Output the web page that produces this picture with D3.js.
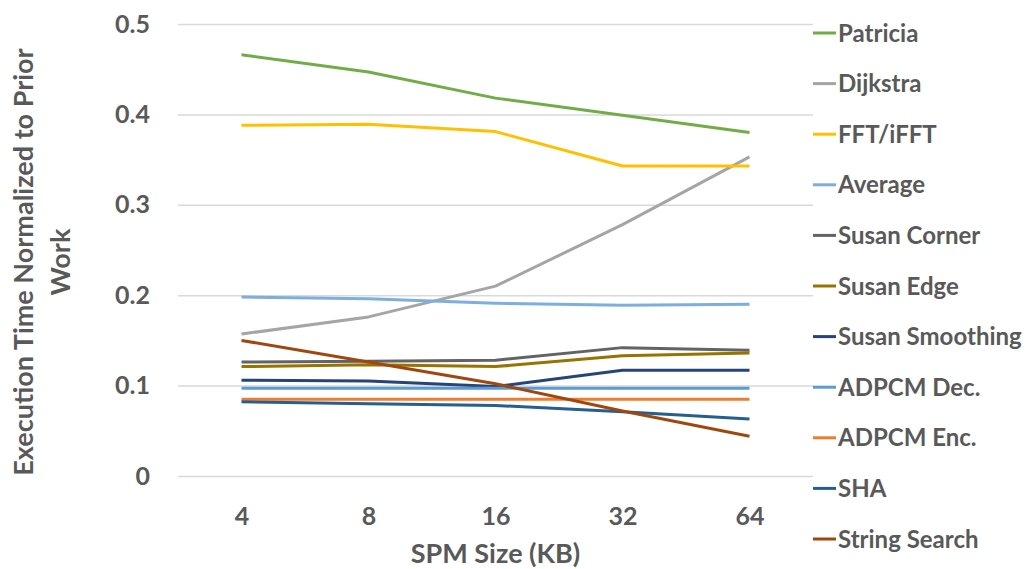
<!DOCTYPE html>
<html lang="en">
<head>
  <meta charset="UTF-8">
  <title>Execution Time vs SPM Size</title>
  <script src="https://d3js.org/d3.v7.min.js"></script>
  <style>
    body { margin: 0; background: #fff; }
    text { font-family: Lato, "Open Sans", sans-serif; font-weight: bold; fill: #595959; }
  </style>
</head>
<body>
<div id="myDiv"></div>

<script>
// chart data
var sizes = ["4", "8", "16", "32", "64"];
var seriesNames = ["Patricia", "Dijkstra", "FFT/iFFT", "Average", "Susan Corner", "Susan Edge",
                   "Susan Smoothing", "ADPCM Dec.", "ADPCM Enc.", "SHA", "String Search"];
var patricia       = [0.466, 0.447, 0.418, 0.399, 0.380];
var dijkstra       = [0.157, 0.176, 0.210, 0.278, 0.353];
var fft            = [0.388, 0.389, 0.381, 0.343, 0.343];
var average        = [0.198, 0.196, 0.191, 0.189, 0.190];
var susanCorner    = [0.126, 0.127, 0.128, 0.142, 0.139];
var susanEdge      = [0.121, 0.123, 0.121, 0.133, 0.136];
var susanSmoothing = [0.106, 0.105, 0.099, 0.117, 0.117];
var adpcmDec       = [0.097, 0.097, 0.097, 0.097, 0.097];
var adpcmEnc       = [0.085, 0.085, 0.085, 0.085, 0.085];
var sha            = [0.082, 0.080, 0.078, 0.071, 0.063];
var stringSearch   = [0.150, 0.126, 0.102, 0.072, 0.044];
var yTicks = [0, 0.1, 0.2, 0.3, 0.4, 0.5];

var seriesValues = [patricia, dijkstra, fft, average, susanCorner, susanEdge,
                    susanSmoothing, adpcmDec, adpcmEnc, sha, stringSearch];
var colors = ["#70AD47", "#A5A5A5", "#FFC000", "#7CAFDD", "#636363", "#997300",
              "#264478", "#5B9BD5", "#ED7D31", "#255E91", "#9E480E"];

var series = seriesNames.map(function(name, i){
  return { name: name, color: colors[i], values: seriesValues[i] };
});

// plot area (plotTop, not "top": that one is window.top)
var plotLeft = 178, plotRight = 813, plotTop = 24, plotBottom = 476;

var svg = d3.select("#myDiv").append("svg")
  .attr("width", 1026)
  .attr("height", 569);

var xScale = d3.scalePoint()
  .domain(sizes)
  .range([plotLeft, plotRight])
  .padding(0.5);

var yScale = d3.scaleLinear()
  .domain([0, 0.5])
  .range([plotBottom, plotTop]);

// y axis with gridlines
var yAxis = d3.axisLeft(yScale)
  .tickValues(yTicks)
  .tickFormat(function(d){ return d === 0 ? "0" : d3.format(".1f")(d); })
  .tickSizeInner(-(plotRight - plotLeft))
  .tickSizeOuter(0)
  .tickPadding(28);

var yG = svg.append("g")
  .attr("transform", "translate(" + plotLeft + ",0)")
  .call(yAxis);
yG.select(".domain").remove();
yG.selectAll(".tick line").attr("stroke", "#D9D9D9").attr("stroke-width", 1.5);
yG.selectAll(".tick text").style("font-size", "25px").attr("fill", "#595959");

// x axis, labels only
var xAxis = d3.axisBottom(xScale).tickSize(0).tickPadding(31);
var xG = svg.append("g")
  .attr("transform", "translate(0," + plotBottom + ")")
  .call(xAxis);
xG.select(".domain").remove();
xG.selectAll(".tick text").style("font-size", "25px").attr("fill", "#595959");

// lines
var line = d3.line()
  .x(function(d, i){ return xScale(sizes[i]); })
  .y(function(d){ return yScale(d); });

svg.selectAll("path.series")
  .data(series)
  .enter()
  .append("path")
  .attr("class", "series")
  .attr("fill", "none")
  .attr("stroke", function(d){ return d.color; })
  .attr("stroke-width", 3)
  .attr("stroke-linejoin", "round")
  .attr("d", function(d){ return line(d.values); });

// axis titles
svg.append("text")
  .attr("x", (plotLeft + plotRight) / 2)
  .attr("y", 563)
  .attr("text-anchor", "middle")
  .style("font-size", "27px")
  .text("SPM Size (KB)");

var yTitle = svg.append("text")
  .attr("transform", "translate(33,262) rotate(-90)")
  .attr("text-anchor", "middle")
  .style("font-size", "27px");
yTitle.append("tspan").attr("x", 0).attr("y", 0).text("Execution Time Normalized to Prior");
yTitle.append("tspan").attr("x", 0).attr("y", 37).text("Work");

// legend on the right
var legendY = d3.scalePoint()
  .domain(seriesNames)
  .range([33, 539]);

var legend = svg.selectAll("g.legend")
  .data(series)
  .enter()
  .append("g")
  .attr("class", "legend")
  .attr("transform", function(d){ return "translate(813," + legendY(d.name) + ")"; });

legend.append("line")
  .attr("x1", 0).attr("x2", 23)
  .attr("stroke", function(d){ return d.color; })
  .attr("stroke-width", 3);

legend.append("text")
  .attr("x", 25)
  .attr("dy", "0.36em")
  .style("font-size", "24px")
  .text(function(d){ return d.name; });
</script>
</body>
</html>
